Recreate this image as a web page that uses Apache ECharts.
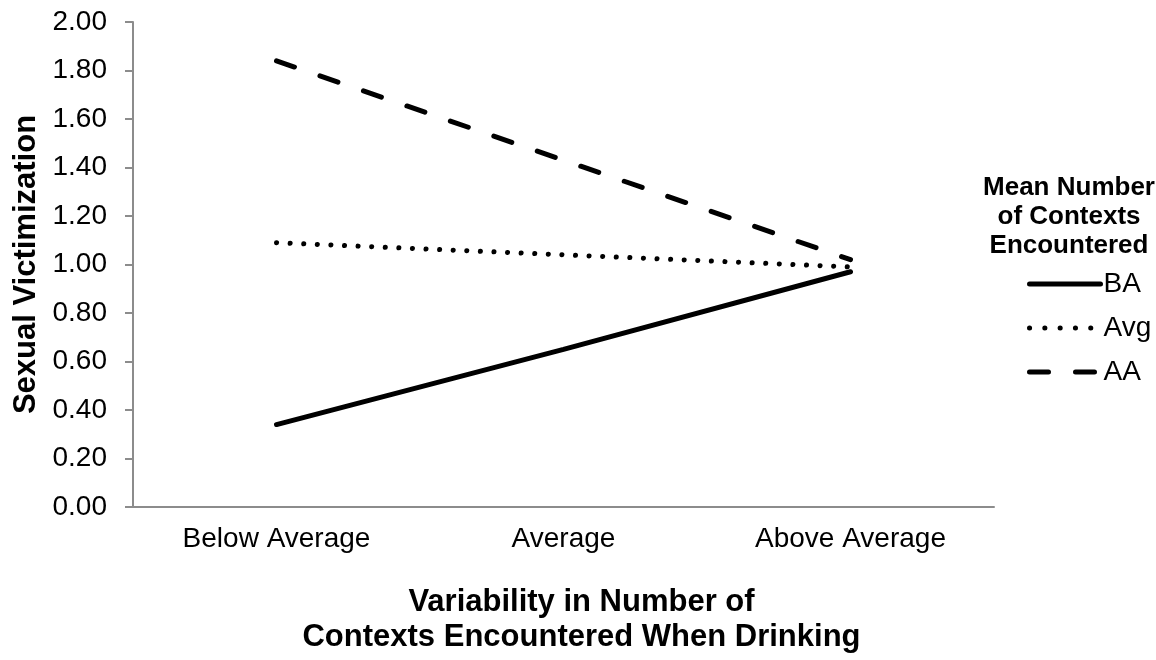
<!DOCTYPE html>
<html><head><meta charset="utf-8">
<script src="https://cdn.jsdelivr.net/npm/echarts@6/dist/echarts.min.js"></script>
<style>html,body{margin:0;padding:0;background:#fff}#c{width:1156px;height:660px}</style>
</head><body><div id="c"></div>
<script>
const categories = ['Below Average', 'Average', 'Above Average'];
const seriesNames = ['BA', 'Avg', 'AA'];
const baValues = [0.34, 0.65, 0.97];
const avgValues = [1.09, 1.04, 0.99];
const aaValues = [1.84, 1.43, 1.02];
const yMin = 0, yMax = 2, yStep = 0.2;

const font = 'Liberation Sans, Arial, sans-serif';
const chart = echarts.init(document.getElementById('c'), null, {renderer: 'canvas'});
const mk = (name, data, dash) => ({
  name, type: 'line', data, symbol: 'none', silent: true, color: '#000',
  itemStyle: {color: '#000'},
  lineStyle: {color: '#000', width: 5, type: dash, cap: 'round'}
});
chart.setOption({
  animation: false,
  backgroundColor: '#fff',
  grid: {left: 133, right: 162, top: 22, bottom: 146},
  title: {
    text: 'Mean Number\nof Contexts\nEncountered',
    left: 1064, top: 168, textAlign: 'center',
    textStyle: {fontFamily: font, fontWeight: 'bold', fontSize: 26, lineHeight: 29, color: '#000'}
  },
  legend: {
    orient: 'vertical', left: 1022, top: 265,
    itemWidth: 71, itemHeight: 14, itemGap: 16,
    itemStyle: {opacity: 0},
    lineStyle: {width: 5, cap: 'round', color: '#000'},
    textStyle: {fontFamily: font, fontSize: 28, color: '#000', padding: [0, 0, 0, -2]},
    data: [
      {name: seriesNames[0]},
      {name: seriesNames[1], lineStyle: {type: [0.1, 15.2], width: 5, cap: 'round', color: '#000'}},
      {name: seriesNames[2]}
    ]
  },
  xAxis: {
    type: 'category', data: categories, boundaryGap: true,
    name: 'Variability in Number of\nContexts Encountered When Drinking',
    nameLocation: 'middle', nameGap: 78,
    nameTextStyle: {fontFamily: font, fontWeight: 'bold', fontSize: 31, lineHeight: 35, color: '#000', padding: [0, 0, 0, 36]},
    axisLine: {lineStyle: {color: '#8c8c8c', width: 2}},
    axisTick: {length: 8, lineStyle: {color: '#8c8c8c', width: 2}},
    axisLabel: {fontFamily: font, fontSize: 28, color: '#000', margin: 18}
  },
  yAxis: {
    type: 'value', min: yMin, max: yMax, interval: yStep,
    name: 'Sexual Victimization', nameLocation: 'middle', nameGap: 88,
    nameTextStyle: {fontFamily: font, fontWeight: 'bold', fontSize: 31, color: '#000'},
    axisLine: {show: true, lineStyle: {color: '#8c8c8c', width: 2}},
    axisTick: {show: true, length: 8, lineStyle: {color: '#8c8c8c', width: 2}},
    splitLine: {show: false},
    axisLabel: {fontFamily: font, fontSize: 28, color: '#000', margin: 26, formatter: v => v.toFixed(2)}
  },
  series: [
    mk('BA', baValues, 'solid'),
    mk('Avg', avgValues, [0.1, 13.5]),
    mk('AA', aaValues, [19, 27])
  ]
});
</script></body></html>
